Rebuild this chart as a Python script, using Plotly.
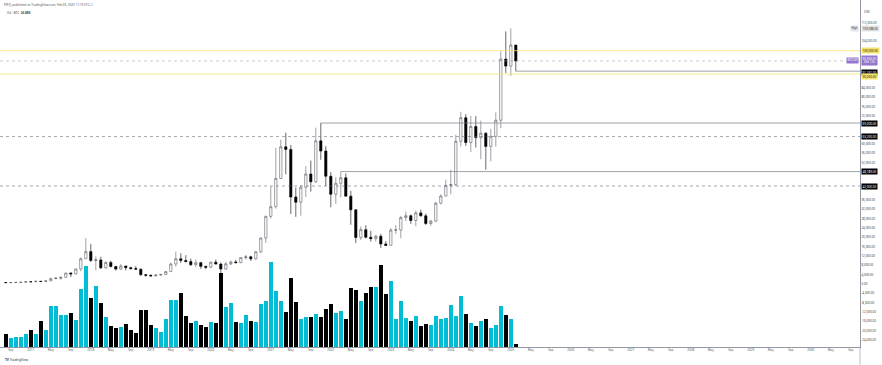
import pandas as pd
import plotly.graph_objects as go

# ---------------- data (BTCUSD monthly, Aug 2016 .. Feb 2025) ----------------
months = [p.strftime("%Y-%m") for p in pd.period_range("2016-08", "2025-02", freq="M")]

opens = [624, 575, 609, 700, 742,
         966, 962, 1190, 1079, 1350, 2300, 2480, 2875, 4700, 4340, 6450, 10850,
         13880, 10110, 10330, 6930, 9240, 7490, 6390, 7730, 7020, 6630, 6370, 4020,
         3740, 3450, 3820, 4100, 5320, 8570, 10820, 10090, 9600, 8290, 9150, 7560,
         7190, 9350, 8540, 6420, 8630, 9450, 9140, 11340, 11650, 10780, 13800, 19700,
         28990, 33140, 45240, 58800, 57700, 37300, 35040, 41460, 47130, 43820, 61350, 57000,
         46200, 38480, 43190, 45530, 37650, 31800, 19930, 23300, 20050, 19430, 20490, 17170,
         16540, 23130, 23150, 28480, 29270, 27220, 30480, 29230, 25940, 26970, 34660, 37720,
         42280, 42580, 61180, 71300, 60640, 67530, 62750, 64600, 58970, 63300, 70200, 96400,
         93400, 102400]
highs = [626, 628, 720, 753, 980,
         1150, 1200, 1290, 1430, 2770, 3000, 2930, 4770, 5000, 6470, 11400, 19660,
         17170, 11780, 11700, 9750, 9990, 7780, 8500, 7760, 7400, 7680, 6600, 4300,
         4070, 4200, 4150, 5600, 9100, 13880, 13200, 12330, 10900, 10540, 9520, 7750,
         9580, 10500, 9190, 9460, 10070, 10380, 11450, 12470, 12080, 14100, 19950, 29300,
         41950, 58350, 61780, 64900, 59600, 41330, 42400, 50500, 52920, 67000, 69000, 59100,
         47950, 45800, 48189, 47460, 39980, 31990, 24670, 25200, 22800, 21080, 21470, 18400,
         23960, 25270, 29200, 31050, 29830, 31430, 31840, 30200, 27500, 35200, 38420, 44730,
         48970, 64000, 73800, 72800, 71980, 71950, 70000, 65100, 66500, 73600, 99800, 108300,
         109588, 102500]
lows = [480, 567, 605, 680, 742,
        752, 920, 890, 1060, 1360, 2090, 1840, 2700, 2970, 4100, 5520, 10800,
        9400, 5920, 6450, 6580, 7090, 5760, 6070, 5880, 6100, 6200, 3500, 3120,
        3350, 3380, 3680, 4030, 5330, 7440, 9070, 9350, 7730, 7300, 6520, 6430,
        6870, 8450, 3850, 6150, 8110, 8900, 8960, 10520, 9880, 10370, 13200, 17600,
        28130, 32300, 44950, 47000, 30000, 28800, 29300, 37330, 39600, 43300, 53250, 42000,
        32900, 34320, 37150, 37700, 25400, 17600, 18800, 19550, 18150, 18200, 15480, 16250,
        16500, 21400, 19550, 26940, 25800, 24750, 28860, 25330, 24900, 26550, 34100, 37630,
        38500, 41880, 59000, 59200, 56550, 58500, 53500, 49000, 52550, 58900, 66800, 90500,
        89200, 91231]
closes = [575, 609, 700, 742, 964,
          962, 1190, 1079, 1350, 2300, 2480, 2875, 4700, 4340, 6450, 10850, 13880,
          10110, 10330, 6930, 9240, 7490, 6390, 7730, 7020, 6630, 6370, 4020, 3740,
          3450, 3820, 4100, 5320, 8570, 10820, 10090, 9600, 8290, 9150, 7560, 7190,
          9350, 8540, 6420, 8630, 9450, 9140, 11340, 11650, 10780, 13800, 19700, 28990,
          33140, 45240, 58800, 57700, 37300, 35040, 41460, 47130, 43820, 61350, 57000, 46200,
          38480, 43190, 45530, 37650, 31800, 19930, 23300, 20050, 19430, 20490, 17170, 16540,
          23130, 23150, 28480, 29270, 27220, 30480, 29230, 25940, 26970, 34660, 37720, 42280,
          42580, 61180, 71300, 60640, 67530, 62750, 64600, 58970, 63300, 70200, 96400, 93400,
          102400, 95600]
# volume in thousands of BTC
volume_k = [126, 93, 100, 102, 126, 166, 126, 256, 166, 411, 405, 321, 321, 338, 266, 577, 803,
            485, 607, 441, 299, 212, 186, 196, 232, 172, 139, 371, 365, 216, 186, 146, 276,
            471, 471, 534, 311, 242, 256, 216, 199, 249, 239, 739, 395, 441, 252, 239, 318,
            256, 252, 425, 461, 849, 560, 455, 351, 687, 448, 279, 296, 301, 331, 301, 378,
            431, 338, 361, 282, 590, 570, 455, 540, 597, 594, 813, 524, 660, 279, 461, 289,
            262, 308, 209, 229, 219, 311, 279, 292, 421, 308, 507, 325, 242, 209, 256, 282,
            186, 216, 405, 315, 282, 26.88]

# key levels drawn on the chart
level_yellow = [100000, 90000]
level_dotted = [63200, 42000]
level_rays = [("2021-11", 69000), ("2022-03", 48189), ("2025-02", 91231)]
last_price = 95600
symbol_high = 109588

# ---------------- build ----------------
idx = list(range(len(months)))
x_lo, x_hi = -1.16, 170.84
y_lo, y_hi = -27000, 121730

up_col, dn_col = "#00bcd4", "#000000"
vol_colors = [up_col if c >= o else dn_col for o, c in zip(opens, closes)]

fig = go.Figure()
fig.add_trace(go.Bar(x=idx, y=volume_k, marker=dict(color=vol_colors, line=dict(width=0)),
                     width=0.86, yaxis="y", showlegend=False, hoverinfo="skip"))
fig.add_trace(go.Candlestick(x=idx, open=opens, high=highs, low=lows, close=closes,
                             yaxis="y2", showlegend=False,
                             increasing=dict(line=dict(color="#5d606b", width=0.6), fillcolor="#ffffff"),
                             decreasing=dict(line=dict(color="#000000", width=0.6), fillcolor="#000000"),
                             whiskerwidth=0))

# x ticks: year at January, plus May / Sep
all_months = pd.period_range("2016-08", periods=171, freq="M")
tickvals, ticktext = [], []
for i, p in enumerate(all_months):
    if p.month == 1:
        tickvals.append(i); ticktext.append(str(p.year))
    elif p.month in (5, 9):
        tickvals.append(i); ticktext.append(p.strftime("%b"))

# special price-scale labels (value, text, bg, fg, yshift)
special = [
    (symbol_high, f"{symbol_high:,.2f}", "#e0e3eb", "#333", 0),
    (100000, "100,000.00", "#f5e46a", "#222", 0),
    (last_price, f"{last_price:,.2f}<br>25d 12h", "#9575cd", "#ffffff", 0),
    (91231, "91,231.00", "#000000", "#ffffff", -1),
    (90000, "90,000.00", "#f5e46a", "#222", -2),
    (69000, "69,000.00", "#000000", "#ffffff", 0),
    (48189, "48,189.00", "#000000", "#ffffff", 0),
    (level_dotted[0], f"{level_dotted[0]:,.2f}", "#000000", "#ffffff", 0),
    (level_dotted[1], f"{level_dotted[1]:,.2f}", "#000000", "#ffffff", 0),
]
special_vals = [s[0] for s in special]

# regular price ticks every 4,000; hide the ones that would collide with a special label
price_ticks = [v for v in range(-24000, 112001, 4000)
               if all(abs(v - s) > 2300 for s in special_vals)]
price_text = [f"{v:,.2f}" for v in price_ticks]

FONT = "Noto Sans"
fs = 3.0
vol_top = max(volume_k) / 0.246

fig.update_layout(
    width=882, height=365,
    margin=dict(l=0, r=22, t=0, b=18, autoexpand=False),
    paper_bgcolor="white", plot_bgcolor="white",
    font=dict(family=FONT, size=fs, color="#333"),
    bargap=0, boxgap=0.35,
    xaxis=dict(range=[x_lo, x_hi], tickvals=tickvals, ticktext=ticktext, showgrid=False,
               zeroline=False, showline=True, linecolor="#9598a1", linewidth=0.6,
               ticks="", tickfont=dict(size=fs, color="#555"), rangeslider=dict(visible=False)),
    yaxis=dict(range=[0, vol_top], visible=False, showgrid=False, zeroline=False),
    yaxis2=dict(range=[y_lo, y_hi], overlaying="y", side="right", tickvals=price_ticks,
                ticktext=price_text, showgrid=False, zeroline=False, showline=True,
                linecolor="#9598a1", linewidth=0.6, ticks="", tickfont=dict(size=fs, color="#444")),
)

shapes = []
for lv in level_yellow:
    shapes.append(dict(type="line", xref="paper", x0=0, x1=1, yref="y2", y0=lv, y1=lv,
                       line=dict(color="#f5e46a", width=0.8), layer="above"))
for lv in level_dotted:
    shapes.append(dict(type="line", xref="paper", x0=0, x1=1, yref="y2", y0=lv, y1=lv,
                       line=dict(color="#6a6d78", width=0.6, dash="dot"), layer="above"))
shapes.append(dict(type="line", xref="paper", x0=0, x1=1, yref="y2", y0=last_price, y1=last_price,
                   line=dict(color="#9598a1", width=0.5, dash="dot"), layer="above"))
for m, lv in level_rays:
    shapes.append(dict(type="line", xref="x", x0=months.index(m), x1=x_hi, yref="y2", y0=lv, y1=lv,
                       line=dict(color="#787b86", width=0.7), layer="above"))
# price-scale border continuing below the time axis
shapes.append(dict(type="line", xref="paper", x0=1, x1=1, yref="paper", y0=-0.06, y1=0,
                   line=dict(color="#9598a1", width=0.6)))
fig.update_layout(shapes=shapes)

ann = []
for val, text, bg, fg, ysh in special:
    ann.append(dict(xref="paper", x=1, xanchor="left", xshift=1, yref="y2", y=val, yshift=ysh,
                    text=text, showarrow=False, bgcolor=bg, borderpad=0.5,
                    font=dict(size=fs, color=fg, family=FONT)))
ann.append(dict(xref="paper", x=1, xanchor="left", xshift=2, yref="y2", y=116600,
                text="USD", showarrow=False, font=dict(size=fs, color="#444")))

# tags left of the price scale
ann.append(dict(xref="paper", x=1, xanchor="right", xshift=-1, yref="y2", y=symbol_high,
                text="High", showarrow=False, bgcolor="#e0e3eb", borderpad=0.4,
                font=dict(size=fs * 0.9, color="#333")))
ann.append(dict(xref="paper", x=1, xanchor="right", xshift=-1, yref="y2", y=last_price,
                text="BTCUSD", showarrow=False, bgcolor="#9575cd", borderpad=0.4,
                font=dict(size=fs * 0.9, color="#ffffff")))

# header / legend / watermark
ann.append(dict(xref="paper", yref="paper", x=0.002, y=0.997, xanchor="left", yanchor="top",
                text="PIFO, published on TradingView.com, Feb 03, 2025 11:19 UTC+1",
                showarrow=False, font=dict(size=3.0, color="#555")))
ann.append(dict(xref="paper", yref="paper", x=0.006, y=0.975, xanchor="left", yanchor="top",
                text="Vol · BTC  <b>26.88K</b>", showarrow=False, font=dict(size=3.0, color="#444")))
ann.append(dict(xref="paper", yref="paper", x=0.003, y=-0.025, xanchor="left", yanchor="top",
                text="<b>TV</b> TradingView", showarrow=False, font=dict(size=3.2, color="#333")))
fig.update_layout(annotations=ann)

fig.write_html("out.html", config={"displayModeBar": False},
               post_script="document.body.style.margin='0px';")
